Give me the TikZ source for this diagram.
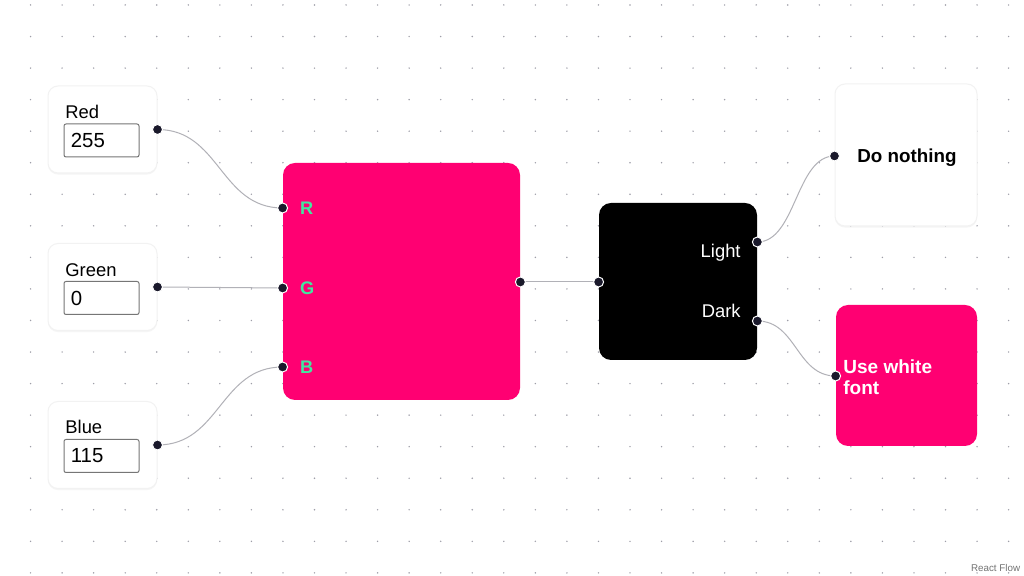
\documentclass[tikz,border=0pt]{standalone}
\usepackage{fontspec}
\setmainfont{Liberation Sans}
\usetikzlibrary{calc,shadows}

\definecolor{rfpink}{HTML}{FF0072}
\definecolor{rfdark}{HTML}{1A192B}
\definecolor{rfedge}{HTML}{B1B1B7}
\definecolor{rfgreen}{HTML}{42E6A0}
\definecolor{rfdot}{HTML}{9E9EA8}
\definecolor{rfinput}{HTML}{767676}

\tikzset{
  box/.style={rectangle, rounded corners=5pt, inner sep=0pt},
  whitebox/.style={box, fill=white, draw=black!5, line width=0.5pt,
    drop shadow={shadow xshift=0pt, shadow yshift=-0.8pt, opacity=0.08}},
  pinkbox/.style={box, fill=rfpink, rounded corners=6pt},
  darkbox/.style={box, fill=black, rounded corners=6pt},
  inbox/.style={rectangle, rounded corners=1pt, draw=rfinput, line width=0.5pt, fill=white,
    minimum width=37.5pt, minimum height=16.5pt, inner sep=0pt},
  lbl/.style={font=\fontsize{9.2}{11}\selectfont, inner sep=0pt},
  val/.style={font=\fontsize{10.2}{12}\selectfont, inner sep=3.5pt, anchor=west},
  chan/.style={font=\bfseries\fontsize{9.1}{11}\selectfont, text=rfgreen, inner sep=0pt, anchor=west},
  handle/.style={circle, fill=rfdark, draw=white, line width=0.5pt, minimum size=5pt, inner sep=0pt},
  edge/.style={rfedge, line width=0.5pt},
}

\begin{document}
\begin{tikzpicture}[x=0.5pt,y=-0.5pt]
    \useasboundingbox (0,0) rectangle (1024,576);
    \fill[white] (0,0) rectangle (1024,576);

    % dot grid
    \foreach \i in {0,...,32}
      \foreach \j in {0,...,18}
        \fill[rfdot] (-1+31.55*\i, 5+31.55*\j) circle (0.8);

    % colour inputs
    \node[whitebox, minimum width=54.5pt, minimum height=43.5pt] (red) at (102.5,129.5) {};
    \node[whitebox, minimum width=54.5pt, minimum height=43.5pt] (green) at (102.5,287) {};
    \node[whitebox, minimum width=54.5pt, minimum height=43.5pt] (blue) at (102.5,445) {};

    \node[lbl, anchor=base west] at (65,119) {Red};
    \node[lbl, anchor=base west] at (65,277) {Green};
    \node[lbl, anchor=base west] at (65,434) {Blue};

    \node[inbox] (redin) at (101.5,140.5) {};
    \node[inbox] (greenin) at (101.5,298) {};
    \node[inbox] (bluein) at (101.5,456) {};
    \node[val] at (redin.west) {255};
    \node[val] at (greenin.west) {0};
    \node[val] at (bluein.west) {115};

    % mixed colour and switch
    \node[pinkbox, minimum width=118.5pt, minimum height=118.5pt] (mix) at (401.5,281.5) {};
    \node[darkbox, minimum width=79pt, minimum height=78.5pt] (switch) at (678,281.5) {};

    % results
    \node[whitebox, minimum width=71pt, minimum height=71pt] (nothing) at (906,155) {};
    \node[pinkbox, minimum width=70.5pt, minimum height=70.5pt] (whitefont) at (906.5,375.5) {};

    % handles
    \coordinate (redh) at (red.east);
    \coordinate (greenh) at (green.east);
    \coordinate (blueh) at (blue.east);
    \coordinate (rh) at (mix.west |- 0,208);
    \coordinate (gh) at (mix.west |- 0,288);
    \coordinate (bh) at (mix.west |- 0,367);
    \coordinate (outh) at (mix.east |- 0,282);
    \coordinate (inh) at (switch.west |- 0,282);
    \coordinate (lighth) at (switch.east |- 0,242);
    \coordinate (darkh) at (switch.east |- 0,321);
    \coordinate (nothh) at (nothing.west |- 0,156);
    \coordinate (whiteh) at (whitefont.west |- 0,376);

    \foreach \a/\b in {redh/rh, greenh/gh, blueh/bh, outh/inh, lighth/nothh, darkh/whiteh}{
      \coordinate (m) at ($(\a)!0.5!(\b)$);
      \draw[edge] (\a) .. controls (m |- \a) and (m |- \b) .. (\b);
    }

    \foreach \h in {redh,greenh,blueh,rh,gh,bh,outh,inh,lighth,darkh,nothh,whiteh}
      \node[handle] at (\h) {};

    \node[chan] at ($(rh)+(17,0)$) {R};
    \node[chan] at ($(gh)+(17,0)$) {G};
    \node[chan] at ($(bh)+(17,0)$) {B};

    \node[lbl, text=white, anchor=base east] at (741,258) {Light};
    \node[lbl, text=white, anchor=base east] at (741,318) {Dark};

    \node[font=\bfseries\fontsize{9.4}{11}\selectfont, inner sep=0pt, anchor=base west] at (857,162.5) {Do nothing};
    \node[font=\bfseries\fontsize{9.5}{10.5}\selectfont, text=white, inner sep=0pt, anchor=west, align=left]
      at (843,377) {Use white\\font};

    \node[font=\fontsize{4.9}{6}\selectfont, text=black!55, inner sep=0pt, anchor=base east] at (1020.5,572) {React Flow};
\end{tikzpicture}
\end{document}
